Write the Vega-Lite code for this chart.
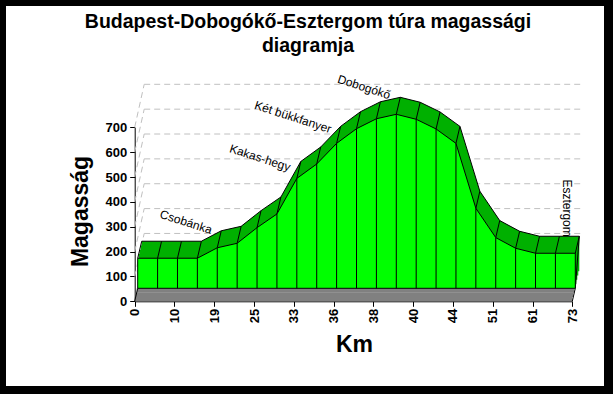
{"$schema":"https://vega.github.io/schema/vega-lite/v6.json","autosize":"none","width":598,"height":380,"padding":{"left":6,"top":6,"right":9,"bottom":8},"background":"#000000","view":{"fill":"#ffffff","stroke":null},
"title":{"text":["Budapest-Dobogókő-Esztergom túra magassági","diagramja"],"font":"Liberation Sans","fontSize":19.5,"fontWeight":"bold","color":"#000","anchor":"middle","baseline":"top","lineHeight":24,"offset":0,"dy":50,"dx":3},
"datasets":{"profile":[{"p":0,"km":"0","elev":121},{"p":1,"elev":121},{"p":2,"km":"10","elev":121},{"p":3,"elev":121},{"p":4,"km":"19","elev":163},{"p":5,"elev":181},{"p":6,"km":"25","elev":244},{"p":7,"elev":299},{"p":8,"km":"33","elev":442},{"p":9,"elev":500},{"p":10,"km":"36","elev":583},{"p":11,"elev":642},{"p":12,"km":"38","elev":682},{"p":13,"elev":700},{"p":14,"km":"40","elev":680},{"p":15,"elev":641},{"p":16,"km":"44","elev":583},{"p":17,"elev":322},{"p":18,"km":"51","elev":204},{"p":19,"elev":161},{"p":20,"km":"61","elev":141},{"p":21,"elev":141},{"p":22,"km":"73","elev":141}],
"levels":[{"h":100,"a":0,"b":22},{"h":200,"a":0,"b":22},{"h":300,"a":0,"b":22},{"h":400,"a":0,"b":22},{"h":500,"a":0,"b":22},{"h":600,"a":0,"b":22},{"h":700,"a":0,"b":22}],
"names":[{"p":2.58,"h":319,"name":"Csobánka"},{"p":6.3,"h":577,"name":"Kakas-hegy"},{"p":7.96,"h":741,"name":"Két bükkfanyer"},{"p":11.53,"h":862,"name":"Dobogókő"}],
"end":[{"p":21.74,"h":375,"name":"Esztergom"}],
"corner":[{"p":22,"elev":141,"h":0}],
"floor":[{"p":0,"h":0},{"p":22,"h":0}]},
"data":{"name":"profile"},
"encoding":{"x":{"field":"p","type":"quantitative","scale":{"domain":[0,22],"range":[128.7,566.3],"nice":false,"zero":false}},"y":{"field":"elev","type":"quantitative","scale":{"domain":[0,700],"range":[295.3,121.3],"nice":false}}},
"layer":[
{"data":{"name":"levels"},"mark":{"type":"rule","color":"#c0c0c0","strokeDash":[6,4],"xOffset":9.5,"x2Offset":8,"yOffset":-43,"y2Offset":-43},"encoding":{"x":{"field":"a","type":"quantitative"},"x2":{"field":"b"},"y":{"field":"h","type":"quantitative"},"y2":{"field":"h"}}},
{"data":{"name":"levels"},"mark":{"type":"rule","color":"#c0c0c0","strokeDash":[6,4],"xOffset":0,"x2Offset":9.5,"yOffset":0,"y2Offset":-43},"encoding":{"x":{"field":"a","type":"quantitative"},"x2":{"field":"a"},"y":{"field":"h","type":"quantitative"},"y2":{"field":"h"}}},
{"data":{"name":"floor"},"mark":{"type":"area","color":"#808080","xOffset":0,"yOffset":-4.4,"y2Offset":0},"encoding":{"x":{"field":"p","type":"quantitative"},"y":{"field":"h","type":"quantitative"},"y2":{"field":"h"}}},
{"data":{"name":"floor"},"mark":{"type":"area","color":"#808080","xOffset":1,"yOffset":-8.7,"y2Offset":-4.3},"encoding":{"x":{"field":"p","type":"quantitative"},"y":{"field":"h","type":"quantitative"},"y2":{"field":"h"}}},
{"data":{"name":"floor"},"mark":{"type":"area","color":"#808080","xOffset":2,"yOffset":-13,"y2Offset":-8.6},"encoding":{"x":{"field":"p","type":"quantitative"},"y":{"field":"h","type":"quantitative"},"y2":{"field":"h"}}},
{"mark":{"type":"area","color":"#00b000","xOffset":4,"yOffset":-17.25,"y2Offset":-17.25},"encoding":{"y2":{"datum":0}}},
{"mark":{"type":"area","color":"#00b000","xOffset":5,"yOffset":-21.5,"y2Offset":-21.5},"encoding":{"y2":{"datum":0}}},
{"mark":{"type":"area","color":"#00b000","xOffset":6,"yOffset":-25.75,"y2Offset":-25.75},"encoding":{"y2":{"datum":0}}},
{"mark":{"type":"area","color":"#00b000","xOffset":7,"yOffset":-30,"y2Offset":-30},"encoding":{"y2":{"datum":0}}},
{"mark":{"type":"line","color":"#000000","strokeWidth":1,"xOffset":7,"yOffset":-30}},
{"mark":{"type":"rule","color":"#000000","strokeWidth":1,"xOffset":3,"x2Offset":7,"yOffset":-13,"y2Offset":-30},"encoding":{"x2":{"field":"p"},"y2":{"field":"elev"}}},
{"data":{"name":"corner"},"mark":{"type":"rule","color":"#000000","strokeWidth":1,"xOffset":7,"x2Offset":3,"yOffset":-30,"y2Offset":-13},"encoding":{"x2":{"field":"p"},"y2":{"field":"h"}}},
{"mark":{"type":"area","color":"#00ff00","xOffset":3,"yOffset":-13,"y2Offset":-13},"encoding":{"y2":{"datum":0}}},
{"mark":{"type":"line","color":"#000000","strokeWidth":1,"xOffset":3,"yOffset":-13}},
{"mark":{"type":"rule","color":"#000000","strokeWidth":1,"xOffset":3,"x2Offset":3,"yOffset":-13,"y2Offset":-13},"encoding":{"x2":{"field":"p"},"y2":{"datum":0}}},
{"data":{"name":"floor"},"mark":{"type":"line","color":"#000000","strokeWidth":1,"xOffset":3,"yOffset":-13},"encoding":{"x":{"field":"p","type":"quantitative"},"y":{"field":"h","type":"quantitative"}}},
{"data":{"name":"floor"},"mark":{"type":"rule","color":"#000000","strokeWidth":1,"xOffset":0,"x2Offset":3,"yOffset":0,"y2Offset":-13},"encoding":{"x":{"field":"p","type":"quantitative"},"x2":{"field":"p"},"y":{"field":"h","type":"quantitative"},"y2":{"field":"h"}}},
{"data":{"name":"names"},"mark":{"type":"text","font":"Liberation Sans","fontSize":12,"angle":18,"color":"#000"},"encoding":{"x":{"field":"p","type":"quantitative"},"y":{"field":"h","type":"quantitative"},"text":{"field":"name"}}},
{"data":{"name":"end"},"mark":{"type":"text","font":"Liberation Sans","fontSize":12,"angle":90,"color":"#000"},"encoding":{"x":{"field":"p","type":"quantitative"},"y":{"field":"h","type":"quantitative"},"text":{"field":"name"}}},
{"data":{"name":"floor"},"mark":{"type":"rule","opacity":0},"encoding":{"x":{"field":"p","type":"quantitative","axis":{"title":"Km","titleFont":"Liberation Sans","titleFontSize":23,"titleFontWeight":"bold","titleColor":"#000","titleX":348,"titleY":50,"titleAlign":"center","titleBaseline":"alphabetic","values":[0,1,2,3,4,5,6,7,8,9,10,11,12,13,14,15,16,17,18,19,20,21,22],"labelExpr":"datum.value%2==0?['0','10','19','25','33','36','38','40','44','51','61','73'][datum.value/2]:''","labelAngle":270,"labelAlign":"right","labelBaseline":"middle","labelFont":"Liberation Sans","labelFontSize":13,"labelFontWeight":"bold","labelColor":"#000","labelPadding":2,"labelOverlap":false,"tickColor":"#000","domainColor":"#000","tickSize":{"condition":{"test":"datum.value%2==0","value":5},"value":3},"grid":false,"offset":-84.7}},"y":{"field":"h","type":"quantitative","axis":{"title":"Magasság","titleFont":"Liberation Sans","titleFontSize":23,"titleFontWeight":"bold","titleColor":"#000","titleX":-47,"titleY":205,"titleAngle":270,"titleAlign":"center","titleBaseline":"alphabetic","values":[0,50,100,150,200,250,300,350,400,450,500,550,600,650,700],"labelExpr":"datum.value%100==0?datum.value:''","labelFont":"Liberation Sans","labelFontSize":13,"labelFontWeight":"bold","labelColor":"#000","labelPadding":3,"labelOverlap":false,"tickColor":"#000","domainColor":"#000","tickSize":{"condition":{"test":"datum.value%100==0","value":5},"value":3},"grid":false,"offset":-128.7}}}}
]}
